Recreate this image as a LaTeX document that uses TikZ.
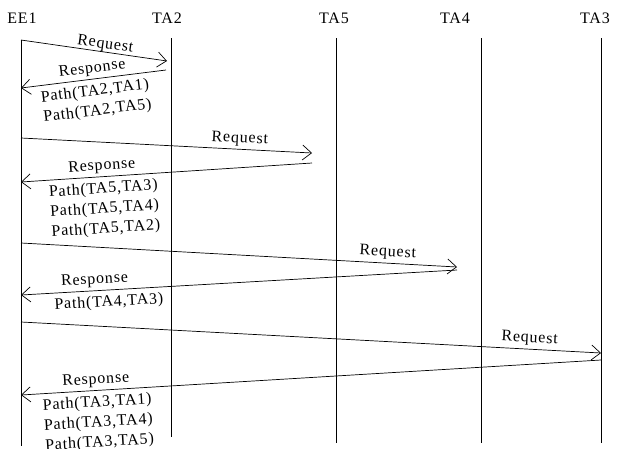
\documentclass[tikz,border=0pt]{standalone}
\usepackage{fontspec}
\setmainfont{Liberation Serif}[LetterSpace=5]
\usetikzlibrary{arrows.meta}
\begin{document}
\begin{tikzpicture}[
  x=1pt, y=-1pt, font=\fontsize{16}{20}\selectfont,
  head/.style={inner sep=0pt},
  life/.style={line width=0.8pt,black},
  msg/.style={-{Straight Barb[length=9pt,width=15pt]},line width=0.7pt},
  lbl/.style={sloped,above,inner sep=3pt},
  paths/.style={sloped,below,align=center,inner sep=1pt,yshift=-4pt}]
\useasboundingbox (0,0) rectangle (618,448);

\node[head] (ee1) at ( 22,18) {EE1};
\node[head] (ta2) at (167,18) {TA2};
\node[head] (ta5) at (334,18) {TA5};
\node[head] (ta4) at (455,18) {TA4};
\node[head] (ta3) at (595,18) {TA3};

\coordinate (ee1t) at ( 21,40); \coordinate (ee1b) at ( 21,446);
\coordinate (ta2t) at (171,38); \coordinate (ta2b) at (171,437);
\coordinate (ta5t) at (336,38); \coordinate (ta5b) at (336,443);
\coordinate (ta4t) at (481,38); \coordinate (ta4b) at (481,443);
\coordinate (ta3t) at (601,38); \coordinate (ta3b) at (601,443);
\draw[life] (ee1t) -- (ee1b);
\draw[life] (ta2t) -- (ta2b);
\draw[life] (ta5t) -- (ta5b);
\draw[life] (ta4t) -- (ta4b);
\draw[life] (ta3t) -- (ta3b);

\coordinate (q1a) at ( 21, 40); \coordinate (q1b) at (167, 61);
\coordinate (r1a) at (166, 70); \coordinate (r1b) at ( 21, 88);
\coordinate (q2a) at ( 21,138); \coordinate (q2b) at (312,153);
\coordinate (r2a) at (312,163); \coordinate (r2b) at ( 21,182);
\coordinate (q3a) at ( 21,243); \coordinate (q3b) at (457,267);
\coordinate (r3a) at (457,270); \coordinate (r3b) at ( 21,295);
\coordinate (q4a) at ( 21,322); \coordinate (q4b) at (601,353);
\coordinate (r4a) at (601,360); \coordinate (r4b) at ( 21,395);

\draw[msg] (q1a) -- node[lbl,pos=0.57,inner sep=0pt] {Request} (q1b);
\draw[msg] (r1a) -- node[lbl,pos=0.5] {Response}
  node[paths,pos=0.5] {Path(TA2,TA1)\\Path(TA2,TA5)} (r1b);

\draw[msg] (q2a) -- node[lbl,pos=0.75] {Request} (q2b);
\draw[msg] (r2a) -- node[lbl,pos=0.72] {Response}
  node[paths,pos=0.72] {Path(TA5,TA3)\\Path(TA5,TA4)\\Path(TA5,TA2)} (r2b);

\draw[msg] (q3a) -- node[lbl,pos=0.84] {Request} (q3b);
\draw[msg] (r3a) -- node[lbl,pos=0.83] {Response}
  node[paths,pos=0.80] {Path(TA4,TA3)} (r3b);

\draw[msg] (q4a) -- node[lbl,pos=0.876] {Request} (q4b);
\draw[msg] (r4a) -- node[lbl,pos=0.87] {Response}
  node[paths,pos=0.87] {Path(TA3,TA1)\\Path(TA3,TA4)\\Path(TA3,TA5)} (r4b);
\end{tikzpicture}
\end{document}
